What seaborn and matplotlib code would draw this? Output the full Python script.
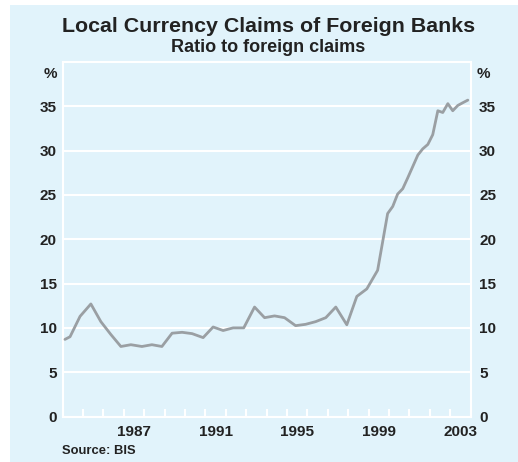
import matplotlib
matplotlib.use("Agg")
import matplotlib.pyplot as plt
import seaborn as sns
import numpy as np
import pandas as pd
from matplotlib.patches import Rectangle

# ---- data ----
dates = [1984.12, 1984.37, 1984.86, 1985.39, 1985.88, 1986.37, 1986.86,
         1987.35, 1987.89, 1988.38, 1988.87, 1989.37, 1989.86, 1990.35,
         1990.89, 1991.38, 1991.87, 1992.36, 1992.88, 1993.41, 1993.90,
         1994.39, 1994.88, 1995.42, 1995.91, 1996.40, 1996.90, 1997.39,
         1997.93, 1998.42, 1998.91, 1999.44, 1999.93,
         2000.18, 2000.42, 2000.67, 2000.91, 2001.16, 2001.41, 2001.65,
         2001.90, 2002.14, 2002.39, 2002.63, 2002.88, 2003.12, 2003.37,
         2003.61, 2003.86]
ratio = [8.7, 9.0, 11.3, 12.7, 10.7, 9.25, 7.9,
         8.1, 7.9, 8.1, 7.9, 9.4, 9.5, 9.35,
         8.9, 10.1, 9.7, 10.0, 10.0, 12.35, 11.15,
         11.35, 11.15, 10.25, 10.4, 10.7, 11.15, 12.35,
         10.35, 13.55, 14.4, 16.5, 22.9,
         23.7, 25.1, 25.7, 26.9, 28.2, 29.5, 30.2,
         30.7, 31.8, 34.5, 34.3, 35.3, 34.5, 35.1,
         35.4, 35.7]
y_ticks = [0, 5, 10, 15, 20, 25, 30, 35]
x_label_years = [1987, 1991, 1995, 1999, 2003]

title = "Local Currency Claims of Foreign Banks"
subtitle = "Ratio to foreign claims"
source = "Source: BIS"

# ---- style ----
BG = "#E1F3FB"
LINE = "#9A9FA3"
TXT = "#222222"
FONT = ["Liberation Sans", "DejaVu Sans"]

sns.set_theme(style="white")
plt.rcParams["font.family"] = FONT
plt.rcParams["font.weight"] = "bold"

W, H = 518, 462
fig = plt.figure(figsize=(W / 100, H / 100), dpi=100, facecolor="white")
fig.patches.append(Rectangle((10 / W, 0), 1 - 10 / W, 1 - 5 / H,
                             transform=fig.transFigure, facecolor=BG,
                             edgecolor="none", zorder=-10))

left, right, top, bottom = 62.5, 470.7, 62, 416.5
ax = fig.add_axes([left / W, (H - bottom) / H, (right - left) / W, (bottom - top) / H])
ax.set_facecolor(BG)

df = pd.DataFrame({"date": dates, "ratio": ratio})
sns.lineplot(data=df, x="date", y="ratio", ax=ax, color=LINE, linewidth=2.0,
             zorder=3)

ax.set_xlim(1984, 2004)
ax.set_ylim(0, 40)
ax.set_xlabel("")
ax.set_ylabel("")

for s in ax.spines.values():
    s.set_color("white")
    s.set_linewidth(1.5)
    s.set_visible(True)

ax.set_yticks(y_ticks)
ax.set_yticklabels([str(v) for v in y_ticks])
ax.grid(axis="y", color="white", linewidth=1.5, zorder=1)
ax.tick_params(axis="y", length=0, pad=4, labelsize=11, labelcolor=TXT)

ax.set_xticks(list(range(1984, 2005)))
ax.set_xticklabels([])
ax.set_xticks([y + 0.5 for y in x_label_years], minor=True)
ax.set_xticklabels([str(y) for y in x_label_years], minor=True)
ax.tick_params(axis="x", which="major", direction="in", length=6, width=1.5,
               color="white", bottom=True)
ax.tick_params(axis="x", which="minor", length=0, pad=6, labelsize=11,
               labelcolor=TXT)
for lab in ax.get_xticklabels(minor=True) + ax.get_yticklabels():
    lab.set_fontweight("bold")

ax2 = ax.twinx()
ax2.set_ylim(0, 40)
ax2.set_yticks(y_ticks)
ax2.set_yticklabels([str(v) for v in y_ticks])
ax2.tick_params(axis="y", length=0, pad=6, labelsize=11, labelcolor=TXT)
for lab in ax2.get_yticklabels():
    lab.set_fontweight("bold")
for s in ax2.spines.values():
    s.set_visible(False)
ax2.grid(False)

ax.text(-0.012, 38.7, "%", transform=ax.get_yaxis_transform(), ha="right",
        va="center", fontsize=11, fontweight="bold", color=TXT)
ax.text(1.015, 38.7, "%", transform=ax.get_yaxis_transform(), ha="left",
        va="center", fontsize=11, fontweight="bold", color=TXT)

cx = (left + right) / 2 / W + 1.5 / W
fig.text(cx, 1 - 27 / H, title, ha="center", va="center", fontsize=15.4,
         fontweight="bold", color=TXT)
fig.text(cx, 1 - 48 / H, subtitle, ha="center", va="center", fontsize=13,
         fontweight="bold", color=TXT)
fig.text(61.5 / W, 1 - 450.5 / H, source, ha="left", va="center", fontsize=9.4,
         fontweight="bold", color=TXT)

fig.savefig("out.png", dpi=100, facecolor="white")
